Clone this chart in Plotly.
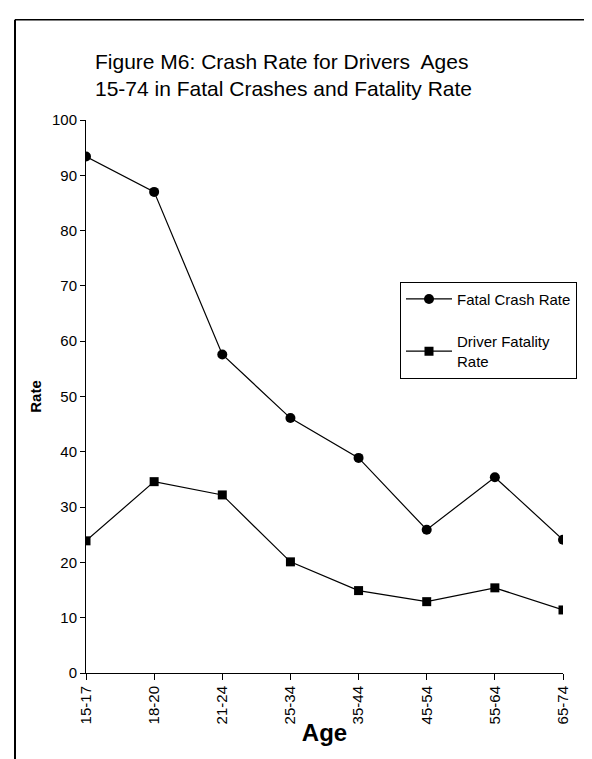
import plotly.graph_objects as go

ages = ["15-17", "18-20", "21-24", "25-34", "35-44", "45-54", "55-64", "65-74"]
fatal_crash_rate = [93.4, 87.0, 57.6, 46.1, 38.9, 25.9, 35.4, 24.1]
driver_fatality_rate = [23.9, 34.6, 32.2, 20.1, 14.9, 12.9, 15.4, 11.4]
y_ticks = [0, 10, 20, 30, 40, 50, 60, 70, 80, 90, 100]

FONT = "Liberation Sans, Arial, sans-serif"
xs = list(range(len(ages)))

fig = go.Figure()
fig.add_trace(go.Scatter(
    x=xs, y=fatal_crash_rate, name="Fatal Crash Rate", mode="lines+markers",
    line=dict(color="black", width=1.2),
    marker=dict(symbol="circle", size=10, color="black"),
    legendgroup="a",
))
fig.add_trace(go.Scatter(
    x=xs, y=driver_fatality_rate, name="Driver Fatality<br>Rate", mode="lines+markers",
    line=dict(color="black", width=1.2),
    marker=dict(symbol="square", size=9, color="black"),
    legendgroup="b",
))

fig.update_layout(
    width=592, height=759,
    margin=dict(l=78, r=37, t=112, b=94),
    paper_bgcolor="white", plot_bgcolor="white",
    font=dict(family=FONT, color="black", size=14),
    showlegend=True,
    legend=dict(
        x=(392 - 78) / 477, y=(665.3 - 274) / 553, xanchor="left", yanchor="top",
        bordercolor="black", borderwidth=1, bgcolor="white",
        font=dict(size=15, family=FONT), itemwidth=46,
        traceorder="grouped", tracegroupgap=20,
    ),
    xaxis=dict(
        range=[0, len(ages) - 1], tickmode="array", tickvals=xs, ticktext=ages,
        tickangle=-90, showgrid=False, zeroline=False,
        showline=True, linecolor="black", linewidth=1,
        ticks="outside", ticklen=6, tickcolor="black",
        tickfont=dict(size=15, family=FONT),
        title=dict(text="<b>Age</b>", font=dict(size=24, family=FONT), standoff=0),
    ),
    yaxis=dict(
        range=[0, 100], tickmode="array", tickvals=y_ticks,
        showgrid=False, zeroline=False,
        showline=True, linecolor="black", linewidth=1,
        ticks="outside", ticklen=5, tickcolor="black",
        tickfont=dict(size=15, family=FONT),
        title=dict(text="<b>Rate</b>", font=dict(size=15, family=FONT), standoff=6),
    ),
)

fig.add_annotation(
    xref="paper", yref="paper", x=(85 - 78) / 477, y=(665.3 - 40) / 553,
    xanchor="left", yanchor="top", align="left", showarrow=False,
    text="Figure M6: Crash Rate for Drivers\u00a0 Ages<br>15-74 in Fatal Crashes and Fatality Rate",
    font=dict(size=21, family=FONT, color="black"),
)

# page border (left and top edges)
fig.add_shape(type="line", xref="paper", yref="paper",
              x0=(7 - 78) / 477, x1=(7 - 78) / 477,
              y0=(665.3 - 12) / 553, y1=(665.3 - 759) / 553,
              line=dict(color="black", width=2))
fig.add_shape(type="line", xref="paper", yref="paper",
              x0=(7 - 78) / 477, x1=(592 - 78) / 477,
              y0=(665.3 - 12) / 553, y1=(665.3 - 12) / 553,
              line=dict(color="black", width=1.5))

fig.write_html("out.html")
